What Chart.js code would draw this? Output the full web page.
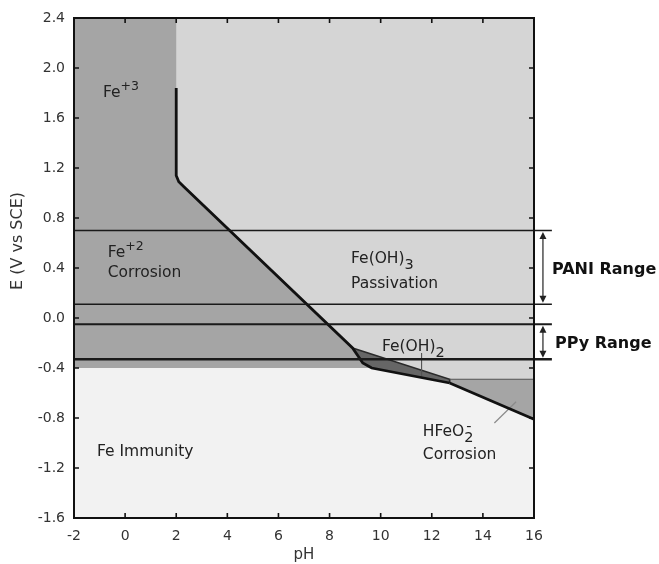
<!DOCTYPE html>
<html>
<head>
<meta charset="utf-8">
<script src="https://cdn.jsdelivr.net/npm/chart.js@4.4.0/dist/chart.umd.min.js"></script>
<style>
  html, body { margin: 0; padding: 0; background: #fff; }
</style>
</head>
<body>
<canvas id="pourbaix" width="659" height="564"></canvas>
<script>
// axis ticks
const xTicks = [-2, 0, 2, 4, 6, 8, 10, 12, 14, 16];
const xTickLabels = ["-2", "0", "2", "4", "6", "8", "10", "12", "14", "16"];
const yTicks = [-1.6, -1.2, -0.8, -0.4, 0, 0.4, 0.8, 1.2, 1.6, 2.0, 2.4];
const yTickLabels = ["-1.6", "-1.2", "-0.8", "-0.4", "0.0", "0.4", "0.8", "1.2", "1.6", "2.0", "2.4"];

// stability regions, [pH, E] pairs
const passivationZone = [[-2, 2.4], [16, 2.4], [16, -1.6], [-2, -1.6]];
const ionZone = [[-2, 2.4], [2, 2.4], [2, 1.14], [2.1, 1.09], [2.3, 1.05], [8.9, -0.24], [9.3, -0.36], [9.65, -0.4], [-2, -0.4]];
const immunityZone = [[-2, -0.4], [9.65, -0.4], [12.7, -0.52], [16, -0.81], [16, -1.6], [-2, -1.6]];
const hydroxide2Zone = [[8.9, -0.24], [12.7, -0.49], [12.7, -0.52], [9.65, -0.4], [9.3, -0.36], [8.9, -0.24]];
const hfeo2Zone = [[12.7, -0.49], [16, -0.49], [16, -0.81], [12.7, -0.52]];

// boundaries and leaders
const acidBoundary = [[2, 1.84], [2, 1.14], [2.1, 1.09], [2.3, 1.05], [8.9, -0.24], [9.3, -0.36], [9.65, -0.4], [12.7, -0.52]];
const alkalineBoundary = [[12.7, -0.52], [16, -0.81]];
const hydroxide2Top = [[8.9, -0.24], [12.7, -0.49], [12.7, -0.52]];
const hfeo2Top = [[12.7, -0.49], [16, -0.49]];
const hydroxide2Leader = [[11.6, -0.28], [11.6, -0.47]];
const hfeo2Leader = [[14.45, -0.84], [15.3, -0.67]];

// polymer potential windows (V vs SCE)
const rangeLevels = [0.7, 0.11, -0.05, -0.33];
const rangeWidths = [1.6, 1.6, 2.2, 2.4];
const paniRange = [0.7, 0.11];
const ppyRange = [-0.05, -0.33];
const rangeEnd = 16.7;
const arrowPH = 16.35;

const regionLabels = [
  { pH: -0.87, E: 1.77, parts: [["Fe"], ["+3", "sup"]] },
  { pH: -0.68, E: 0.49, parts: [["Fe"], ["+2", "sup"]] },
  { pH: -0.68, E: 0.33, parts: [["Corrosion"]] },
  { pH: 8.84, E: 0.44, parts: [["Fe(OH)"], ["3", "sub"]] },
  { pH: 8.84, E: 0.24, parts: [["Passivation"]] },
  { pH: 10.05, E: -0.265, parts: [["Fe(OH)"], ["2", "sub"]] },
  { pH: -1.1, E: -1.1, parts: [["Fe Immunity"]] },
  { pH: 11.65, E: -0.944, parts: [["HFeO"], ["2", "subsup", "-"]] },
  { pH: 11.65, E: -1.128, parts: [["Corrosion"]] },
];
const rangeNames = [
  { pH: 16.7, E: 0.352, text: "PANI Range" },
  { pH: 16.82, E: -0.24, text: "PPy Range" },
];

const FONT = "'DejaVu Sans', 'Liberation Sans', sans-serif";
const pts = (arr) => arr.map(([x, y]) => ({ x, y }));

function zone(arr, color, order) {
  return {
    data: pts(arr), showLine: true, fill: "shape", backgroundColor: color,
    borderColor: "rgba(0,0,0,0)", borderWidth: 0, pointRadius: 0, order,
  };
}
function edge(arr, color, width, order, extra) {
  return Object.assign({
    data: pts(arr), showLine: true, fill: false, borderColor: color,
    borderWidth: width, pointRadius: 0, order,
  }, extra || {});
}

const datasets = [
  zone(passivationZone, "#d5d5d5", 20),
  zone(ionZone, "#a5a5a5", 19),
  zone(immunityZone, "#f2f2f2", 19),
  zone(hfeo2Zone, "#a5a5a5", 19),
  zone(hydroxide2Zone, "#666666", 18),
  edge(hydroxide2Top, "#2a2a2a", 1.6, 17),
  edge(hfeo2Top, "#555", 1.2, 16),
  edge(hydroxide2Leader, "#555", 1, 16),
  edge(hfeo2Leader, "#8a8a8a", 1.2, 16),
  edge(acidBoundary, "#111", 2.8, 15),
  edge(alkalineBoundary, "#111", 2.8, 15),
];
rangeLevels.forEach((v, i) => {
  datasets.push(edge([[-2, v], [rangeEnd, v]], "#1a1a1a", rangeWidths[i], 10, { clip: false }));
});

function drawParts(ctx, x, y, parts, size) {
  let cx = x;
  parts.forEach(([t, kind, extra]) => {
    if (kind === "sup") {
      ctx.font = `${size - 3}px ${FONT}`;
      ctx.fillText(t, cx, y - 7);
    } else if (kind === "sub") {
      ctx.font = `${size - 1}px ${FONT}`;
      ctx.fillText(t, cx, y + 6);
    } else if (kind === "subsup") {
      ctx.font = `${size - 1}px ${FONT}`;
      ctx.fillText(t, cx, y + 6);
      ctx.fillText(extra, cx + 2, y - 5);
    } else {
      ctx.font = `${size}px ${FONT}`;
      ctx.fillText(t, cx, y);
    }
    cx += ctx.measureText(t).width;
  });
}

function arrowHead(ctx, x, y, dir) {
  ctx.beginPath();
  ctx.moveTo(x, y);
  ctx.lineTo(x - 3.5, y + dir * 7);
  ctx.lineTo(x + 3.5, y + dir * 7);
  ctx.closePath();
  ctx.fill();
}

const decorations = {
  id: "decorations",
  afterDraw(chart) {
    const { ctx, chartArea: a, scales: { x, y } } = chart;
    ctx.save();
    // frame
    ctx.strokeStyle = "#111";
    ctx.lineWidth = 2;
    ctx.strokeRect(a.left, a.top, a.right - a.left, a.bottom - a.top);
    // inward ticks on all four sides
    ctx.lineWidth = 1.6;
    ctx.beginPath();
    xTicks.slice(1, -1).forEach((v) => {
      const px = x.getPixelForValue(v);
      ctx.moveTo(px, a.bottom); ctx.lineTo(px, a.bottom - 5);
      ctx.moveTo(px, a.top); ctx.lineTo(px, a.top + 5);
    });
    yTicks.slice(1, -1).forEach((v) => {
      const py = y.getPixelForValue(v);
      ctx.moveTo(a.left, py); ctx.lineTo(a.left + 5, py);
      ctx.moveTo(a.right, py); ctx.lineTo(a.right - 5, py);
    });
    ctx.stroke();

    // range arrows
    ctx.strokeStyle = "#222";
    ctx.fillStyle = "#222";
    ctx.lineWidth = 1.2;
    const ax = x.getPixelForValue(arrowPH);
    [paniRange, ppyRange].forEach(([hi, lo]) => {
      const top = y.getPixelForValue(hi) + 1.5;
      const bot = y.getPixelForValue(lo) - 1.5;
      ctx.beginPath();
      ctx.moveTo(ax, top + 4); ctx.lineTo(ax, bot - 4);
      ctx.stroke();
      arrowHead(ctx, ax, top, 1);
      arrowHead(ctx, ax, bot, -1);
    });

    // region labels
    ctx.fillStyle = "#222";
    ctx.textBaseline = "alphabetic";
    ctx.textAlign = "left";
    regionLabels.forEach((l) => {
      drawParts(ctx, x.getPixelForValue(l.pH), y.getPixelForValue(l.E), l.parts, 15.5);
    });
    ctx.font = `bold 16px ${FONT}`;
    ctx.fillStyle = "#111";
    rangeNames.forEach((l) => {
      ctx.fillText(l.text, x.getPixelForValue(l.pH), y.getPixelForValue(l.E));
    });

    // axis titles
    ctx.fillStyle = "#333";
    ctx.textAlign = "center";
    ctx.textBaseline = "middle";
    ctx.font = `15px ${FONT}`;
    ctx.fillText("pH", (a.left + a.right) / 2, 555);
    ctx.translate(18, 241);
    ctx.rotate(-Math.PI / 2);
    ctx.font = `16px ${FONT}`;
    ctx.fillText("E (V vs SCE)", 0, 0);
    ctx.restore();
  },
};

new Chart(document.getElementById("pourbaix"), {
  type: "scatter",
  data: { datasets },
  options: {
    responsive: false,
    animation: false,
    layout: { padding: { top: 18, right: 125, bottom: 0, left: 0 } },
    plugins: { legend: { display: false }, tooltip: { enabled: false } },
    scales: {
      x: {
        type: "linear", min: -2, max: 16,
        afterBuildTicks: (s) => { s.ticks = xTicks.map((v) => ({ value: v })); },
        afterFit: (s) => { s.height = 46; },
        grid: { display: false, drawTicks: false },
        border: { display: false },
        ticks: {
          padding: 10, color: "#333", maxRotation: 0, autoSkip: false,
          font: { family: FONT, size: 14 },
          callback: (v, i) => xTickLabels[i],
        },
      },
      y: {
        type: "linear", min: -1.6, max: 2.4,
        afterBuildTicks: (s) => { s.ticks = yTicks.map((v) => ({ value: v })); },
        afterFit: (s) => { s.width = 74; },
        grid: { display: false, drawTicks: false },
        border: { display: false },
        ticks: {
          padding: 9, color: "#333", autoSkip: false,
          font: { family: FONT, size: 14 },
          callback: (v, i) => yTickLabels[i],
        },
      },
    },
  },
  plugins: [decorations],
});
</script>
</body>
</html>
